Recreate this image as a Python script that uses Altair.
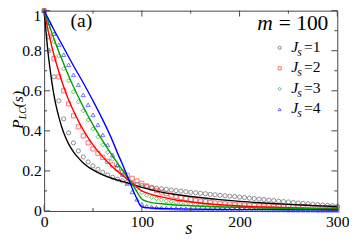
import altair as alt
import pandas as pd

# ---------------- data ----------------
series_names = ["Js=1", "Js=2", "Js=3", "Js=4"]

# simulation markers, sampled every 5 in s
s_sim = list(range(0, 301, 5))
sim_js1 = [1.0, .80, .67, .55, .46, .39, .34, .30, .27, .245, .225, .208, .193, .180, .168, .159, .151, .144, .138, .132, .127,
           .122, .118, .114, .111, .108, .105, .102, .099, .096, .093, .091, .088, .086, .083, .081, .078, .076, .074, .072, .069,
           .067, .064, .062, .059, .057, .054, .052, .049, .047, .045, .042, .040, .038, .036, .034, .032, .030, .028, .026, .024]
sim_js2 = [1.0, .87, .76, .67, .60, .535, .475, .42, .375, .34, .31, .288, .268, .248, .23, .212, .195, .178, .163, .15, .138,
           .125, .113, .103, .094, .086, .079, .073, .067, .062, .057, .053, .049, .046, .043, .040, .038, .036, .034, .032, .030,
           .029, .028, .027, .026, .025, .024, .023, .022, .021, .021, .020, .020, .019, .019, .018, .018, .017, .017, .016, .016]
sim_js3 = [1.0, .92, .845, .775, .71, .65, .595, .545, .50, .455, .41, .37, .33, .293, .258, .225, .195, .165, .138, .112, .092,
           .078, .068, .061, .055, .050, .046, .042, .039, .036, .034, .032, .030, .028, .026, .025, .023, .022, .021, .020, .019,
           .018, .017, .016, .015, .015, .014, .013, .013, .012, .012, .011, .011, .010, .010, .010, .009, .009, .009, .008, .008]
sim_js4 = [1.0, .94, .885, .83, .78, .73, .68, .63, .58, .53, .48, .43, .38, .33, .28, .23, .182, .137, .095, .058, .033,
           .024, .020, .018, .016, .015, .014, .013, .012, .011, .011, .010, .010, .009, .009, .008, .008, .008, .007, .007, .007,
           .006, .006, .006, .006, .005, .005, .005, .005, .005, .004, .004, .004, .004, .004, .004, .003, .003, .003, .003, .003]

# theory curves
s_th1 = [0, 2, 4, 6, 8, 10, 12, 15, 20, 25, 30, 35, 40, 50, 60, 70, 80, 90, 100, 110, 120, 135, 150, 175, 200, 225, 250, 275, 300]
th_js1 = [1.0, .89, .79, .71, .64, .58, .53, .47, .39, .335, .295, .265, .24, .205, .18, .162, .148, .133, .118, .105, .094, .082,
          .072, .059, .048, .040, .033, .027, .021]
s_th2 = [0, 5, 10, 15, 20, 25, 30, 35, 40, 50, 60, 70, 80, 90, 100, 110, 120, 135, 150, 175, 200, 225, 250, 275, 300]
th_js2 = [1.0, .88, .78, .695, .62, .555, .50, .45, .405, .33, .27, .22, .178, .14, .10, .082, .07, .055, .045, .033, .025, .02,
          .016, .013, .011]
s_th3 = [0, 5, 10, 15, 20, 25, 30, 35, 40, 50, 60, 70, 80, 90, 95, 100, 105, 110, 120, 135, 150, 175, 200, 225, 250, 275, 300]
th_js3 = [1.0, .93, .86, .795, .735, .675, .62, .57, .52, .43, .35, .275, .205, .135, .095, .06, .048, .042, .036, .03, .026, .021,
          .018, .015, .013, .011, .01]
s_th4 = [0, 10, 20, 30, 40, 50, 60, 70, 75, 80, 85, 90, 95, 98, 100, 110, 125, 150, 200, 250, 300]
th_js4 = [1.0, .905, .815, .725, .64, .55, .455, .35, .29, .235, .175, .115, .06, .03, .02, .015, .012, .009, .007, .006, .005]

x_major = [0, 100, 200, 300]
x_minor = [50, 150, 250]
y_major = [0, 0.2, 0.4, 0.6, 0.8, 1.0]
y_labels = [0, 0.2, 0.4, 0.6, 0.8]
y_top_label = 1
y_minor = [0.1, 0.3, 0.5, 0.7, 0.9]
legend_labels = ["=1", "=2", "=3", "=4"]

# ---------------- tables ----------------
sim_rows = []
for name, vals in zip(series_names, [sim_js1, sim_js2, sim_js3, sim_js4]):
    for s, v in zip(s_sim, vals):
        sim_rows.append({"s": s, "P": v, "series": name})
sim_df = pd.DataFrame(sim_rows)

th_rows = []
for name, ss, vals in zip(series_names, [s_th1, s_th2, s_th3, s_th4], [th_js1, th_js2, th_js3, th_js4]):
    for s, v in zip(ss, vals):
        th_rows.append({"s": s, "P": v, "series": name})
th_df = pd.DataFrame(th_rows)

# ---------------- style ----------------
W, H = 300, 205
SERIF = "Liberation Serif"
frame_color = "#444444"
marker_colors = ["#555555", "#ff3030", "#20a020", "#3030ff"]
line_colors = ["#000000", "#ff0000", "#00a000", "#0000ff"]
shapes = ["circle", "square", "diamond", "triangle-up"]

xs = alt.Scale(domain=[0, 300], nice=False, zero=False)
ys = alt.Scale(domain=[0, 1], nice=False)

x_axis = alt.Axis(values=x_major, ticks=False, domain=False, grid=False, title=None,
                  labelFont=SERIF, labelFontSize=16, labelColor="black", labelPadding=3, labelFlush=False)
y_axis = alt.Axis(values=y_labels, format="~g", ticks=False, domain=False, grid=False, title=None,
                  labelFont=SERIF, labelFontSize=16, labelColor="black", labelPadding=3, labelFlush=False)

points = alt.Chart(sim_df).mark_point(filled=False, size=18, strokeWidth=0.9, opacity=0.75).encode(
    x=alt.X("s:Q", scale=xs, axis=x_axis),
    y=alt.Y("P:Q", scale=ys, axis=y_axis),
    color=alt.Color("series:N", scale=alt.Scale(domain=series_names, range=marker_colors), legend=None),
    shape=alt.Shape("series:N", scale=alt.Scale(domain=series_names, range=shapes), legend=None),
)

lines = alt.Chart(th_df).mark_line(strokeWidth=1.4, interpolate="monotone").encode(
    x=alt.X("s:Q", scale=xs, axis=x_axis),
    y=alt.Y("P:Q", scale=ys, axis=y_axis),
    stroke=alt.Stroke("series:N", scale=alt.Scale(domain=series_names, range=line_colors), legend=None),
    detail="series:N",
)

# inward ticks on all four sides
def xticks(vals, length):
    base = alt.Chart(pd.DataFrame({"s": vals}))
    b = base.mark_rule(color=frame_color, strokeWidth=1).encode(
        x=alt.X("s:Q", scale=xs, axis=x_axis), y=alt.value(H), y2=alt.value(H - length))
    t = base.mark_rule(color=frame_color, strokeWidth=1).encode(
        x=alt.X("s:Q", scale=xs, axis=x_axis), y=alt.value(0), y2=alt.value(length))
    return [b, t]

def yticks(vals, length):
    base = alt.Chart(pd.DataFrame({"P": vals}))
    l = base.mark_rule(color=frame_color, strokeWidth=1).encode(
        y=alt.Y("P:Q", scale=ys, axis=y_axis), x=alt.value(0), x2=alt.value(length))
    r = base.mark_rule(color=frame_color, strokeWidth=1).encode(
        y=alt.Y("P:Q", scale=ys, axis=y_axis), x=alt.value(W), x2=alt.value(W - length))
    return [l, r]

tick_layers = xticks(x_major, 6) + xticks(x_minor, 3) + yticks(y_major, 6) + yticks(y_minor, 3)

one = pd.DataFrame({"a": [0]})

# top tick label "1", drawn flush below the frame so it is not cut off
top_label = alt.Chart(pd.DataFrame({"P": [y_top_label]})).mark_text(
    font=SERIF, fontSize=16, align="right", baseline="top", color="black", dy=-2
).encode(
    y=alt.Y("P:Q", scale=ys, axis=y_axis),
    x=alt.value(-3),
    text=alt.Text("P:Q", format="~g"),
)

def txt(text, x, y, size, style="normal", align="left", angle=0):
    kw = dict(text=text, font=SERIF, fontSize=size, fontStyle=style, align=align,
              baseline="alphabetic", color="black")
    if angle:
        kw["angle"] = angle
    return alt.Chart(one).mark_text(**kw).encode(x=alt.value(x), y=alt.value(y))

texts = [
    txt("(a)", 27, 17, 20),
    txt("m", 218, 20, 22, "italic"),
    txt("= 100", 240, 20, 22),
    # x title
    txt("s", 148, 229, 19, "italic", align="center"),
    # y title  P_LC(s)
    txt("P", -22, 121, 16, "italic", angle=270),
    txt("LC", -18.5, 111, 10, "italic", angle=270),
    txt("(s)", -22, 99, 16, "italic", angle=270),
]

legend_layers = []
for i, (name, lab) in enumerate(zip(series_names, legend_labels)):
    yb = 42 + 21 * i
    legend_layers.append(
        alt.Chart(one).mark_point(shape=shapes[i], filled=False, size=10, strokeWidth=0.9,
                                  color=marker_colors[i], opacity=0.8).encode(
            x=alt.value(241), y=alt.value(yb - 4)))
    legend_layers.append(txt("J", 253, yb, 16, "italic"))
    legend_layers.append(txt("s", 259, yb + 4, 12, "italic"))
    legend_layers.append(txt(lab, 266, yb, 16))

chart = alt.layer(points, lines, *tick_layers, top_label, *texts, *legend_layers).resolve_scale(
    color="independent", stroke="independent"
).properties(
    width=W, height=H,
    autosize=alt.AutoSizeParams(type="none"),
    padding={"left": 37, "top": 0, "right": 12, "bottom": 28},
).configure_view(stroke=frame_color, strokeWidth=1)

chart.save("out.html", embed_options={"renderer": "svg", "actions": False})
